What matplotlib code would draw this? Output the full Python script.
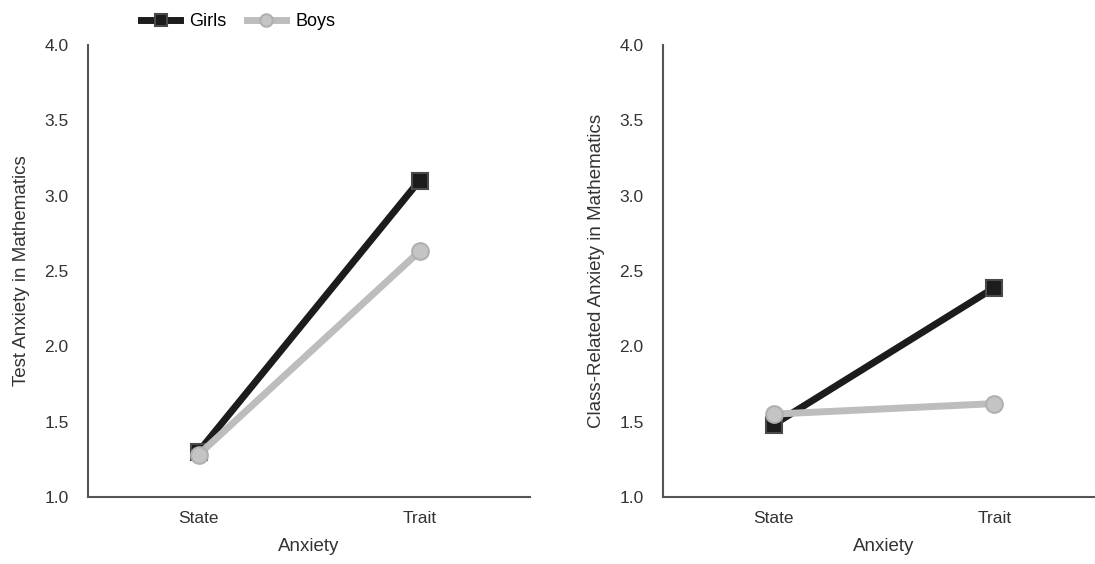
import matplotlib
matplotlib.use("Agg")
import matplotlib.pyplot as plt

plt.rcParams['font.family'] = ['Liberation Sans Narrow', 'Liberation Sans', 'DejaVu Sans']

# data
categories = ['State', 'Trait']
test_girls = [1.30, 3.10]
test_boys = [1.28, 2.63]
class_girls = [1.48, 2.39]
class_boys = [1.55, 1.62]
y_ticks = [1.0, 1.5, 2.0, 2.5, 3.0, 3.5, 4.0]

W, H = 1095, 564
fig = plt.figure(figsize=(W / 100, H / 100), dpi=100)

def px_axes(x0, x1, y_top, y_bot):
    return fig.add_axes([x0 / W, 1 - y_bot / H, (x1 - x0) / W, (y_bot - y_top) / H])

ax1 = px_axes(88, 530, 45, 497)
ax2 = px_axes(663, 1105, 45, 497)

girls_style = dict(color='#1c1c1c', lw=5, marker='s', ms=12,
                   mfc='#1c1c1c', mec='#4a4a4a', mew=1.5)
boys_style = dict(color='#bdbdbd', lw=5, marker='o', ms=12,
                  mfc='#c4c4c4', mec='#b0b0b0', mew=1.5)

pos = list(range(len(categories)))

def draw(ax, girls, boys, ylabel):
    ax.plot(pos, girls, label='Girls', zorder=3, **girls_style)
    ax.plot(pos, boys, label='Boys', zorder=4, **boys_style)
    ax.set_xlim(-0.5, 1.5)
    ax.set_ylim(1.0, 4.0)
    ax.set_xticks(pos)
    ax.set_xticklabels(categories)
    ax.set_yticks(y_ticks)
    ax.set_yticklabels([f'{t:.1f}' for t in y_ticks])
    ax.tick_params(length=0, labelsize=12.5, colors='#333333', pad=8)
    ax.tick_params(axis='x', pad=10)
    ax.tick_params(axis='y', pad=14)
    for s in ['top', 'right']:
        ax.spines[s].set_visible(False)
    for s in ['left', 'bottom']:
        ax.spines[s].set_color('#555555')
        ax.spines[s].set_linewidth(1.5)
    ax.set_xlabel('Anxiety', fontsize=13.5, color='#333333', labelpad=9)
    ax.set_ylabel(ylabel, fontsize=13.5, color='#333333', labelpad=10)

draw(ax1, test_girls, test_boys, 'Test Anxiety in Mathematics')
draw(ax2, class_girls, class_boys, 'Class-Related Anxiety in Mathematics')

fig.legend(*ax1.get_legend_handles_labels(), loc='center', ncol=2,
           bbox_to_anchor=(238 / W, 1 - 22 / H), frameon=False,
           fontsize=13, handlelength=2.2, columnspacing=1.1, handletextpad=0.5,
           markerscale=0.75)

fig.savefig('out.png', dpi=100)
